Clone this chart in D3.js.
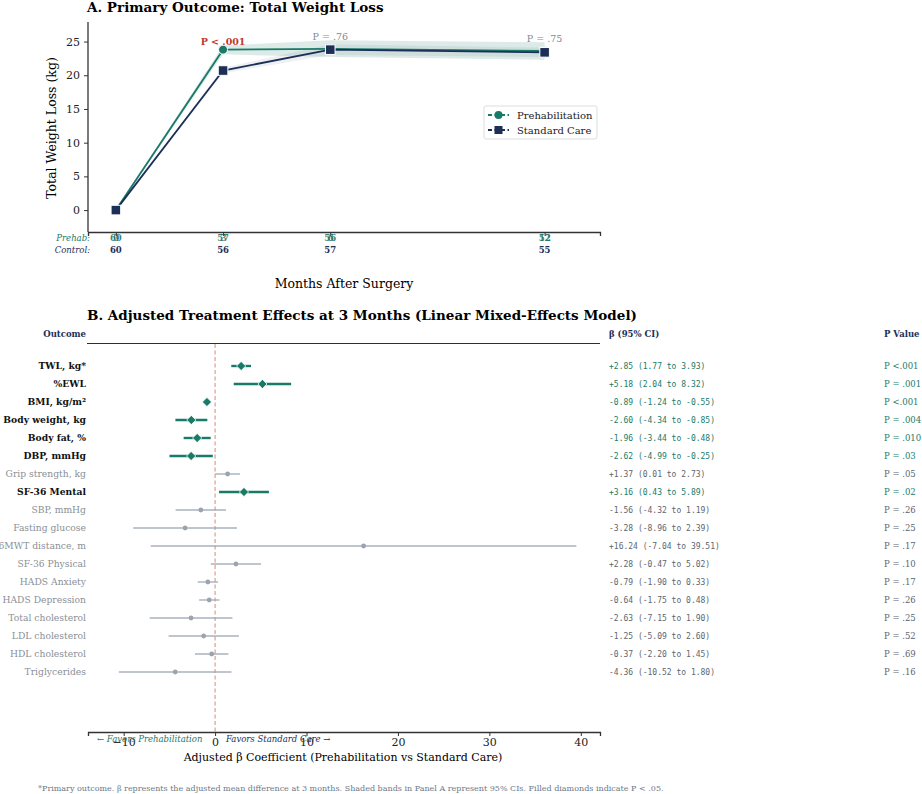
<!DOCTYPE html>
<html>
<head>
<meta charset="utf-8">
<script src="https://cdn.jsdelivr.net/npm/d3@7"></script>
<style>
  body { margin: 0; background: #fff; }
  text { font-family: "DejaVu Serif", serif; }
  .mono { font-family: "DejaVu Sans Mono", monospace; }
</style>
</head>
<body>
<div id="chart"></div>
<script>
// ---- panel A data ----
var months = [0, 3, 6, 12];
var prehabMean = [0, 23.8, 23.9, 23.6];
var prehabLo = [0, 23.1, 22.7, 22.3];
var prehabHi = [0, 24.4, 25.2, 24.9];
var stdMean = [0, 20.7, 23.8, 23.4];
var stdLo = [0, 20.3, 23.0, 22.7];
var stdHi = [0, 21.1, 24.6, 24.1];
var pLabels = ["", "P < .001", "P = .76", "P = .75"];
var prehabN = [60, 57, 56, 52];
var controlN = [60, 56, 57, 55];
var yTicksA = [0, 5, 10, 15, 20, 25];

// ---- panel B data ----
var outcomes = ["TWL, kg*", "%EWL", "BMI, kg/m\u00b2", "Body weight, kg", "Body fat, %", "DBP, mmHg",
  "Grip strength, kg", "SF-36 Mental", "SBP, mmHg", "Fasting glucose", "6MWT distance, m",
  "SF-36 Physical", "HADS Anxiety", "HADS Depression", "Total cholesterol", "LDL cholesterol",
  "HDL cholesterol", "Triglycerides"];
var beta = [2.85, 5.18, -0.89, -2.60, -1.96, -2.62, 1.37, 3.16, -1.56, -3.28, 16.24, 2.28, -0.79, -0.64, -2.63, -1.25, -0.37, -4.36];
var ciLo = [1.77, 2.04, -1.24, -4.34, -3.44, -4.99, 0.01, 0.43, -4.32, -8.96, -7.04, -0.47, -1.90, -1.75, -7.15, -5.09, -2.20, -10.52];
var ciHi = [3.93, 8.32, -0.55, -0.85, -0.48, -0.25, 2.73, 5.89, 1.19, 2.39, 39.51, 5.02, 0.33, 0.48, 1.90, 2.60, 1.45, 1.80];
var pVals = ["<.001", ".001", "<.001", ".004", ".010", ".03", ".05", ".02", ".26", ".25", ".17", ".10", ".17", ".26", ".25", ".52", ".69", ".16"];
var sig = [true, true, true, true, true, true, false, true, false, false, false, false, false, false, false, false, false, false];
var xTicksB = [-10, 0, 10, 20, 30, 40];

var teal = "#1a7a68", navy = "#1c2f56", grey = "#9aa4b0", textGrey = "#5d6570";

var svg = d3.select("#chart").append("svg").attr("width", 922).attr("height", 794);

// ================= Panel A =================
var xA = d3.scaleLinear().domain([-0.78, 13.55]).range([88, 600]);
var yA = d3.scaleLinear().domain([-3.25, 27.9]).range([232, 22]);

svg.append("text").attr("x", 87).attr("y", 12).attr("font-size", 13.5).attr("font-weight", "bold")
  .text("A. Primary Outcome: Total Weight Loss");

// bands
function band(lo, hi, col, op) {
  var area = d3.area().x(function (d, i) { return xA(months[i]); })
    .y0(function (d, i) { return yA(lo[i]); }).y1(function (d, i) { return yA(hi[i]); });
  svg.append("path").datum(months).attr("d", area).attr("fill", col).attr("opacity", op);
}
band(stdLo, stdHi, navy, 0.07);
band(prehabLo, prehabHi, teal, 0.15);

var line = function (vals) {
  return d3.line().x(function (d, i) { return xA(months[i]); }).y(function (d, i) { return yA(vals[i]); })(months);
};
svg.append("path").attr("d", line(prehabMean)).attr("fill", "none").attr("stroke", teal).attr("stroke-width", 1.8);
svg.append("path").attr("d", line(stdMean)).attr("fill", "none").attr("stroke", navy).attr("stroke-width", 1.8);

svg.selectAll(".pm").data(months).enter().append("circle")
  .attr("cx", function (d) { return xA(d); }).attr("cy", function (d, i) { return yA(prehabMean[i]); })
  .attr("r", 4.5).attr("fill", teal).attr("stroke", "#fff").attr("stroke-width", 1);
svg.selectAll(".sm").data(months).enter().append("rect")
  .attr("x", function (d) { return xA(d) - 4.8; }).attr("y", function (d, i) { return yA(stdMean[i]) - 4.8; })
  .attr("width", 9.6).attr("height", 9.6).attr("fill", navy).attr("stroke", "#fff").attr("stroke-width", 1);

// p labels
svg.selectAll(".pl").data(months).enter().append("text")
  .attr("x", function (d) { return xA(d); })
  .attr("y", function (d, i) { return i === 1 ? yA(prehabMean[i]) - 4.5 : yA(prehabMean[i]) - 8.5; })
  .attr("text-anchor", "middle").attr("font-size", 9.5)
  .attr("font-weight", function (d, i) { return i === 1 ? "bold" : "normal"; })
  .attr("fill", function (d, i) { return i === 1 ? "#c0392b" : "#7f8a96"; })
  .text(function (d, i) { return pLabels[i]; });

// axes
var gyA = svg.append("g").attr("transform", "translate(88,0)")
  .call(d3.axisLeft(yA).tickValues(yTicksA).tickSize(4).tickPadding(4));
var gxA = svg.append("g").attr("transform", "translate(0,232)")
  .call(d3.axisBottom(xA).tickValues(months).tickSize(4).tickPadding(-1.5));
[gyA, gxA].forEach(function (g) {
  g.select(".domain").attr("stroke", "#333").attr("stroke-width", 1.3);
  g.selectAll(".tick line").attr("stroke", "#333");
  g.selectAll(".tick text").attr("font-family", "DejaVu Serif").attr("fill", "#222");
});
gyA.selectAll(".tick text").attr("font-size", 11);
gxA.selectAll(".tick text").attr("font-size", 9.5).attr("fill", "#2a4a50");
gyA.select(".domain").attr("d", "M0,22V232");

svg.append("text").attr("transform", "translate(56,128) rotate(-90)").attr("text-anchor", "middle")
  .attr("font-size", 12.5).text("Total Weight Loss (kg)");

// at-risk table
svg.append("text").attr("x", 90).attr("y", 241).attr("text-anchor", "end").attr("font-size", 8.5)
  .attr("font-style", "italic").attr("fill", teal).text("Prehab:");
svg.append("text").attr("x", 90).attr("y", 253).attr("text-anchor", "end").attr("font-size", 8.5)
  .attr("font-style", "italic").attr("fill", navy).text("Control:");
svg.selectAll(".np").data(months).enter().append("text")
  .attr("x", function (d) { return xA(d); }).attr("y", 241).attr("text-anchor", "middle")
  .attr("font-size", 8.5).attr("font-weight", "bold").attr("fill", teal).attr("opacity", 0.9)
  .text(function (d, i) { return prehabN[i]; });
svg.selectAll(".nc").data(months).enter().append("text")
  .attr("x", function (d) { return xA(d); }).attr("y", 253).attr("text-anchor", "middle")
  .attr("font-size", 8.5).attr("font-weight", "bold").attr("fill", navy)
  .text(function (d, i) { return controlN[i]; });

svg.append("text").attr("x", 344).attr("y", 288).attr("text-anchor", "middle").attr("font-size", 12.5)
  .text("Months After Surgery");

// legend
var leg = svg.append("g").attr("transform", "translate(484,106)");
leg.append("rect").attr("width", 113).attr("height", 33).attr("fill", "#fff").attr("stroke", "#ddd").attr("rx", 2);
[["Prehabilitation", teal, "c"], ["Standard Care", navy, "s"]].forEach(function (e, i) {
  var y = 9 + i * 15;
  leg.append("line").attr("x1", 4).attr("x2", 25).attr("y1", y).attr("y2", y)
    .attr("stroke", e[1]).attr("stroke-width", 1.8).attr("stroke-dasharray", "4,2.5");
  if (e[2] === "c") leg.append("circle").attr("cx", 14.5).attr("cy", y).attr("r", 4).attr("fill", e[1]);
  else leg.append("rect").attr("x", 10.5).attr("y", y - 4).attr("width", 8).attr("height", 8).attr("fill", e[1]);
  leg.append("text").attr("x", 33).attr("y", y + 3.5).attr("font-size", 10).attr("fill", "#222").text(e[0]);
});

// ================= Panel B =================
var xB = d3.scaleLinear().domain([-13.9, 42.1]).range([88, 600]);
var yB = d3.scaleBand().domain(outcomes).range([357, 681]);

svg.append("text").attr("x", 87).attr("y", 320).attr("font-size", 13.5).attr("font-weight", "bold")
  .text("B. Adjusted Treatment Effects at 3 Months (Linear Mixed-Effects Model)");

svg.append("text").attr("x", 86).attr("y", 337).attr("text-anchor", "end").attr("font-size", 8.5)
  .attr("font-weight", "bold").attr("fill", navy).text("Outcome");
svg.append("text").attr("x", 609).attr("y", 337).attr("font-size", 8.5)
  .attr("font-weight", "bold").attr("fill", navy).text("\u03b2 (95% CI)");
svg.append("text").attr("x", 884).attr("y", 337).attr("font-size", 8.5)
  .attr("font-weight", "bold").attr("fill", navy).text("P Value");
svg.append("line").attr("x1", 87).attr("x2", 600).attr("y1", 343.5).attr("y2", 343.5)
  .attr("stroke", navy).attr("stroke-width", 1);

svg.append("line").attr("x1", xB(0)).attr("x2", xB(0)).attr("y1", 344).attr("y2", 732)
  .attr("stroke", "#d98a78").attr("stroke-width", 1).attr("stroke-dasharray", "4,2.5");

var rows = svg.selectAll(".row").data(outcomes).enter().append("g")
  .attr("transform", function (d) { return "translate(0," + (yB(d) + yB.bandwidth() / 2) + ")"; });

rows.append("line")
  .attr("x1", function (d, i) { return xB(ciLo[i]); }).attr("x2", function (d, i) { return xB(ciHi[i]); })
  .attr("stroke", function (d, i) { return sig[i] ? teal : grey; })
  .attr("stroke-width", function (d, i) { return sig[i] ? 2.4 : 1.4; })
  .attr("opacity", function (d, i) { return sig[i] ? 1 : 0.85; });
rows.each(function (d, i) {
  var g = d3.select(this);
  if (sig[i]) {
    g.append("path").attr("d", "M0,-4.6L4.6,0L0,4.6L-4.6,0Z")
      .attr("transform", "translate(" + xB(beta[i]) + ",0)")
      .attr("fill", teal).attr("stroke", "#fff").attr("stroke-width", 0.8);
  } else {
    g.append("circle").attr("cx", xB(beta[i])).attr("r", 2.4).attr("fill", grey);
  }
});
rows.append("text").attr("x", 86).attr("dy", "0.35em").attr("text-anchor", "end").attr("font-size", 9.2)
  .attr("font-weight", function (d, i) { return sig[i] ? "bold" : "normal"; })
  .attr("fill", function (d, i) { return sig[i] ? "#111" : "#8a8f96"; })
  .text(function (d) { return d; });

var f2 = d3.formatLocale({ decimal: ".", thousands: ",", grouping: [3], currency: ["", ""], minus: "-" }).format(".2f");
rows.append("text").attr("class", "mono").attr("x", 609).attr("dy", "0.35em").attr("font-size", 8)
  .attr("fill", function (d, i) { return sig[i] ? teal : textGrey; })
  .text(function (d, i) {
    return (beta[i] >= 0 ? "+" : "") + f2(beta[i]) + " (" + f2(ciLo[i]) + " to " + f2(ciHi[i]) + ")";
  });
rows.append("text").attr("x", 884).attr("dy", "0.35em").attr("font-size", 8.5)
  .attr("fill", function (d, i) { return sig[i] ? teal : textGrey; })
  .text(function (d, i) { return pVals[i].charAt(0) === "<" ? "P " + pVals[i] : "P = " + pVals[i]; });

var gxB = svg.append("g").attr("transform", "translate(0,732)")
  .call(d3.axisBottom(xB).tickValues(xTicksB).tickSize(4).tickPadding(2).tickFormat(function (d) { return d < 0 ? "\u2212" + Math.abs(d) : d; }));
gxB.select(".domain").attr("stroke", "#333").attr("stroke-width", 1.3);
gxB.selectAll(".tick line").attr("stroke", "#333");
gxB.selectAll(".tick text").attr("font-family", "DejaVu Serif").attr("font-size", 11).attr("fill", "#222");

svg.append("text").attr("x", 97).attr("y", 742).attr("font-size", 8.5).attr("font-style", "italic")
  .attr("fill", teal).text("\u2190 Favors Prehabilitation");
svg.append("text").attr("x", 226).attr("y", 742).attr("font-size", 8.5).attr("font-style", "italic")
  .attr("fill", navy).text("Favors Standard Care \u2192");
svg.append("text").attr("x", 343).attr("y", 761).attr("text-anchor", "middle").attr("font-size", 11)
  .text("Adjusted \u03b2 Coefficient (Prehabilitation vs Standard Care)");

svg.append("text").attr("x", 38).attr("y", 791).attr("font-size", 8).attr("fill", "#6b7888")
  .text("*Primary outcome. \u03b2 represents the adjusted mean difference at 3 months. Shaded bands in Panel A represent 95% CIs. Filled diamonds indicate P < .05.");
</script>
</body>
</html>
